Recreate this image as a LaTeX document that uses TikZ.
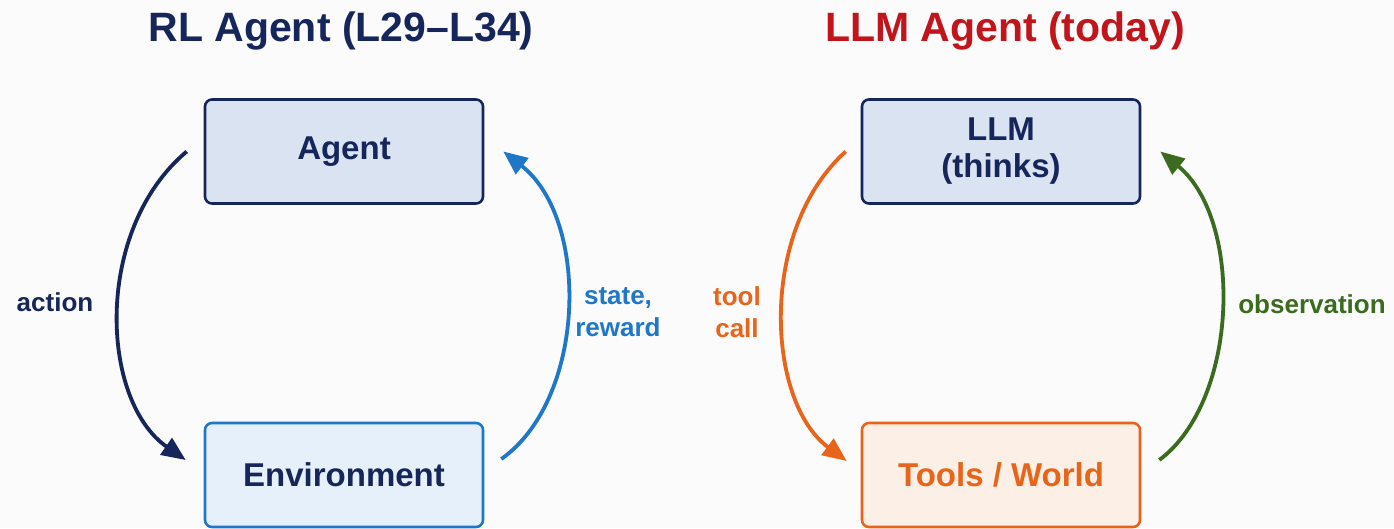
\documentclass[tikz,border=0pt]{standalone}
\usepackage{fontspec}
\setmainfont{Liberation Sans}
\usetikzlibrary{arrows.meta}

\definecolor{navy}{HTML}{17265A}
\definecolor{titlered}{HTML}{C2141B}
\definecolor{envblue}{HTML}{1F77C9}
\definecolor{toolorange}{HTML}{E8641A}
\definecolor{obsgreen}{HTML}{3B6B1F}
\definecolor{agentfill}{HTML}{D9E3F1}
\definecolor{envfill}{HTML}{E6F0FA}
\definecolor{toolfill}{HTML}{FCEFE6}
\definecolor{bg}{HTML}{FBFBFC}

\tikzset{
  x=1pt, y=-1pt,
  titletext/.style={font=\bfseries\fontsize{41}{46}\selectfont, anchor=center},
  box/.style={draw, line width=2.6pt, rounded corners=7pt,
    minimum width=278pt, minimum height=104pt, align=center,
    font=\bfseries\fontsize{33}{38}\selectfont},
  loop/.style={line width=3.8pt, -{Triangle[length=24pt,width=20pt]}},
  lbl/.style={font=\bfseries\fontsize{26}{32}\selectfont, align=center},
}

\begin{document}
\begin{tikzpicture}
  % canvas
  \fill[bg] (0,0) rectangle (1394,528);
  \useasboundingbox (0,0) rectangle (1394,528);

  % headings
  \node[titletext, text=navy] (rltitle) at (341,31) {RL Agent (L29–L34)};
  \node[titletext, text=titlered] (llmtitle) at (1005,31) {LLM Agent (today)};

  % classic RL loop
  \node[box, draw=navy, fill=agentfill, text=navy] (agent) at (344,151.5) {Agent};
  \node[box, draw=envblue, fill=envfill, text=navy] (env) at (344,475) {Environment};

  \draw[loop, navy] ([xshift=-17pt]agent.west)
    .. controls +(-93,78) and +(-86,-60) .. ([xshift=-18pt,yshift=15pt]env.west);
  \draw[loop, envblue] ([xshift=17pt,yshift=16pt]env.east)
    .. controls +(85,-60) and +(87,68) .. ([xshift=19pt]agent.east);

  \node[lbl, text=navy] (actlbl) at (55,302) {action};
  \node[lbl, text=envblue] (srlbl) at (618,312) {state,\\reward};

  % LLM tool-use loop
  \node[box, draw=navy, fill=agentfill, text=navy] (llm) at (1001,151.5) {LLM\\[-1pt](thinks)};
  \node[box, draw=toolorange, fill=toolfill, text=toolorange] (tools) at (1001,475) {Tools / World};

  \draw[loop, toolorange] ([xshift=-15pt]llm.west)
    .. controls +(-87,78) and +(-81,-60) .. ([xshift=-14pt,yshift=14pt]tools.west);
  \draw[loop, obsgreen] ([xshift=18pt,yshift=15pt]tools.east)
    .. controls +(80,-60) and +(83,68) .. ([xshift=19pt]llm.east);

  \node[lbl, text=toolorange] (tclbl) at (737,312) {tool\\call};
  \node[lbl, text=obsgreen] (obslbl) at (1312,304) {observation};
\end{tikzpicture}
\end{document}
